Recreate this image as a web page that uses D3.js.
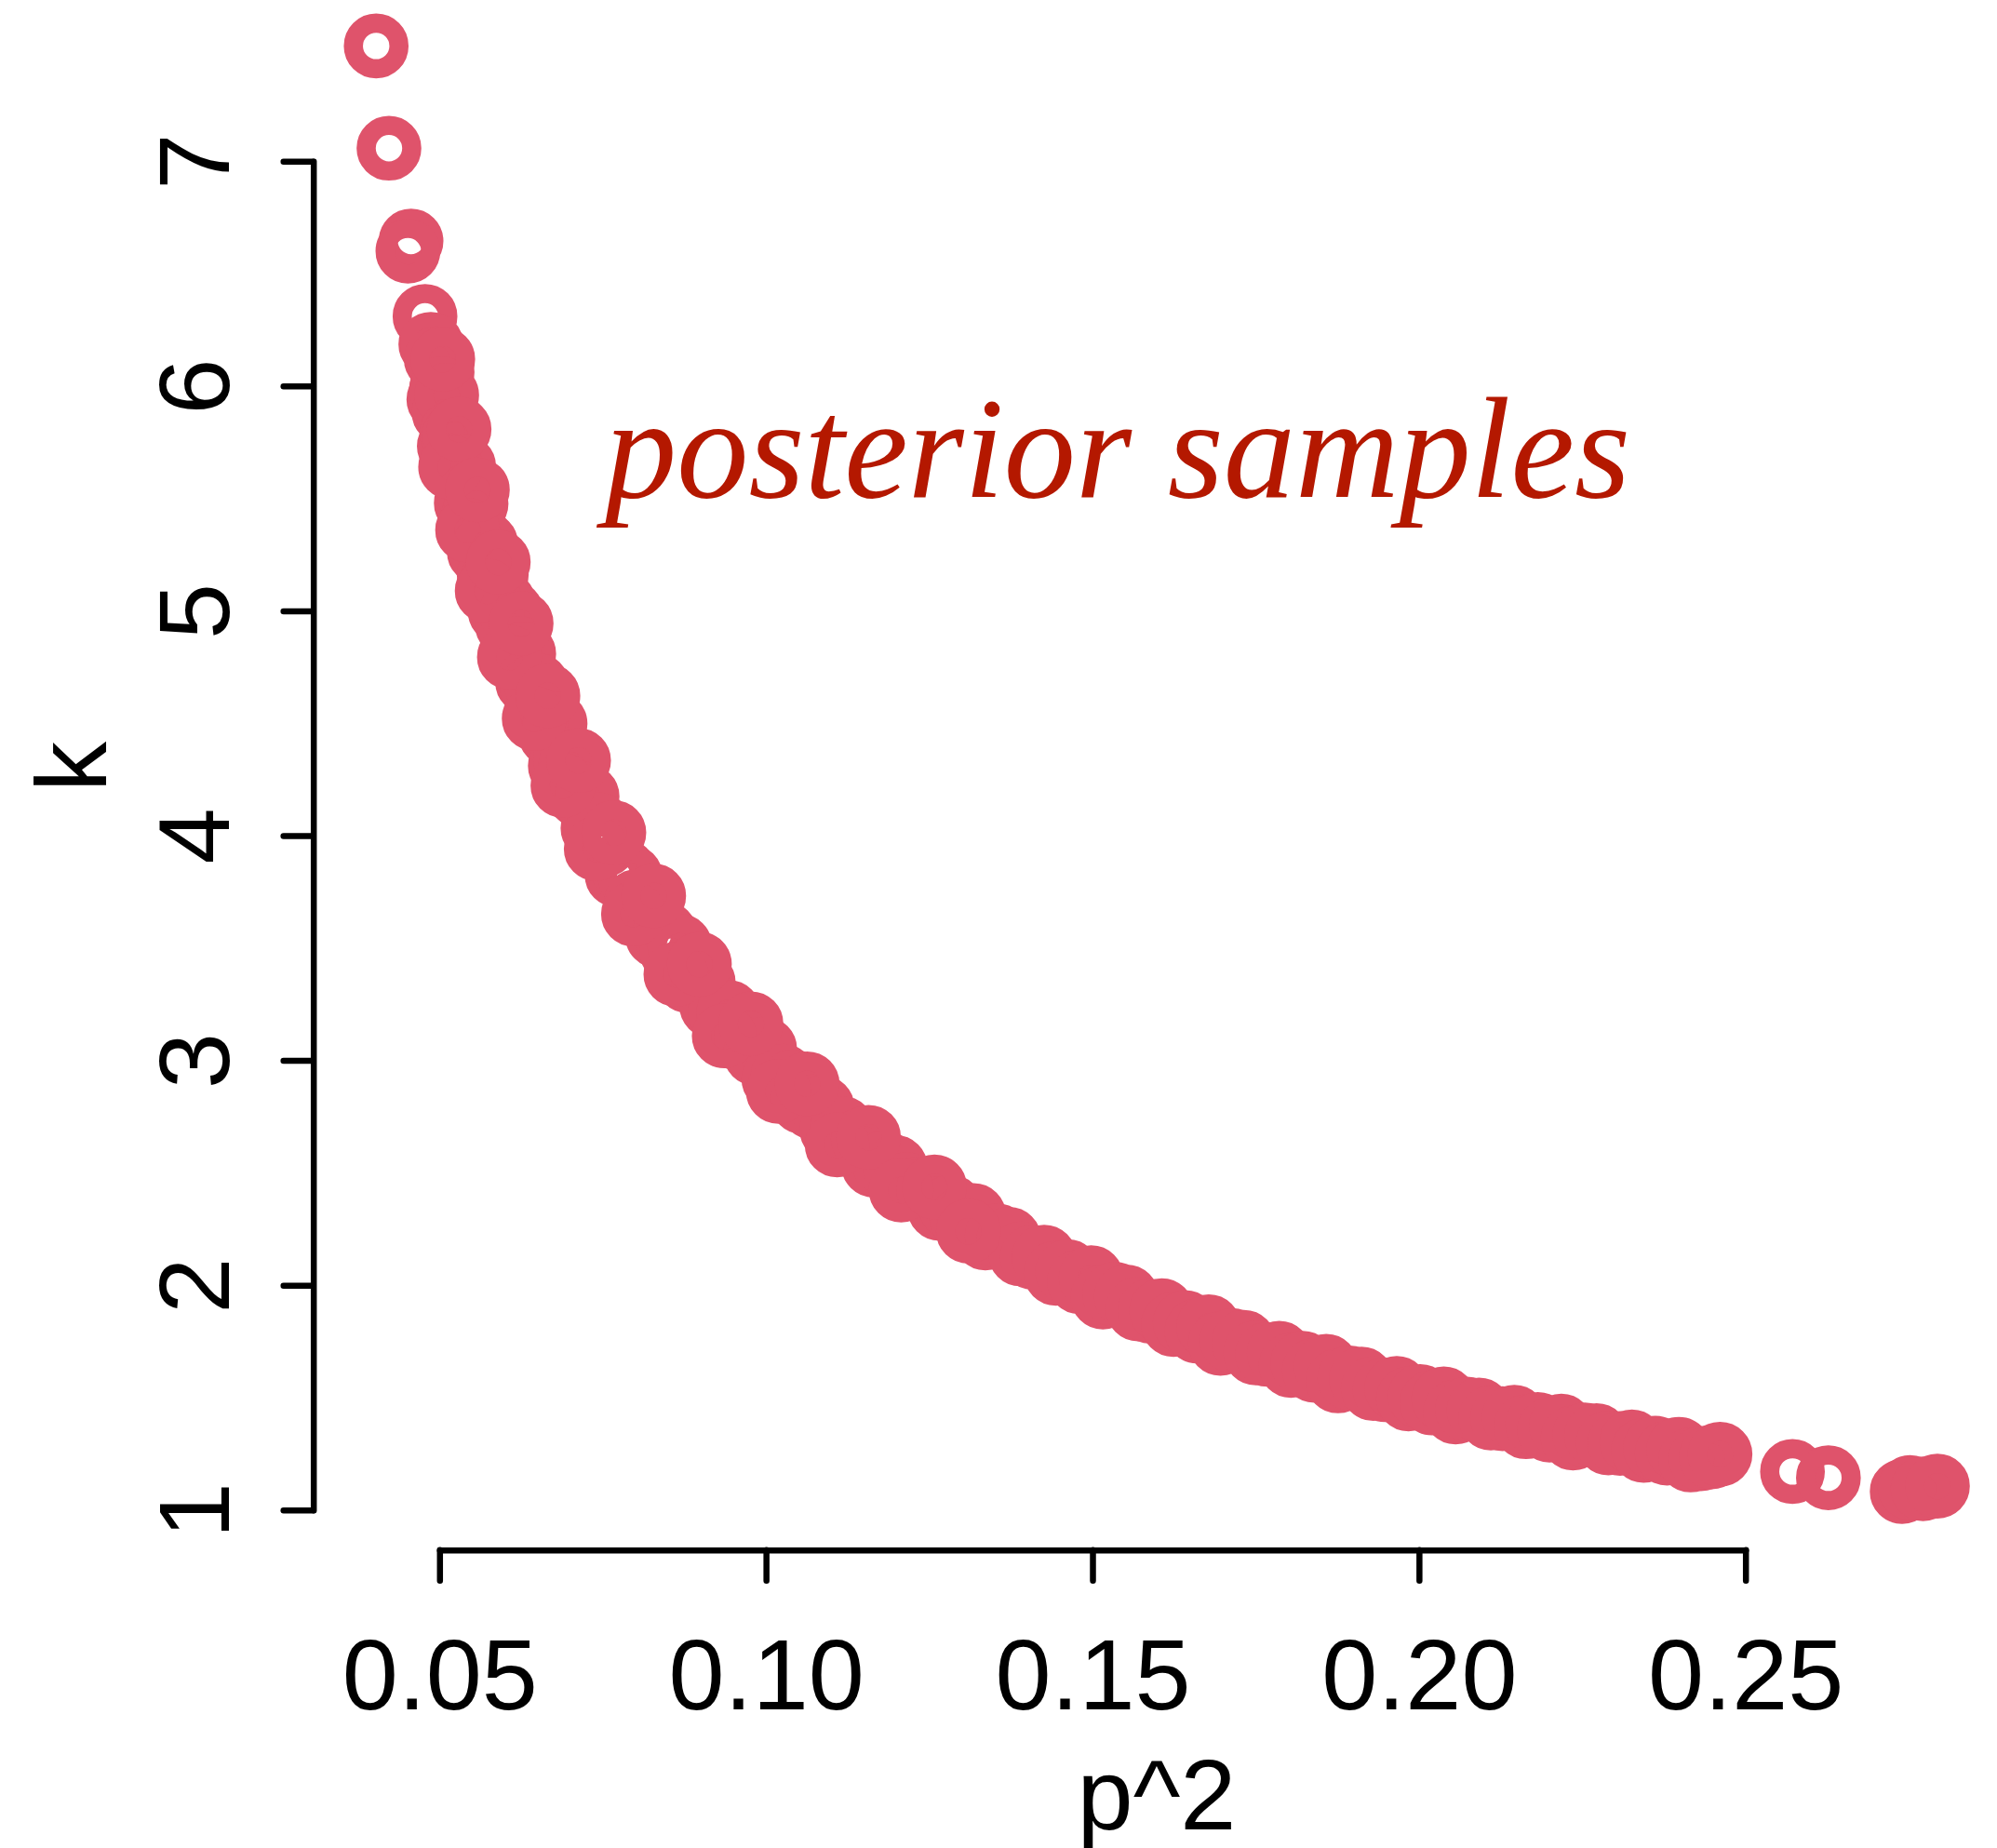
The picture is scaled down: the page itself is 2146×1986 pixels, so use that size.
<!DOCTYPE html>
<html>
<head>
<meta charset="utf-8">
<script src="https://cdn.jsdelivr.net/npm/d3@7"></script>
<style>
  html, body { margin: 0; padding: 0; background: #ffffff; }
  svg { display: block; }
</style>
</head>
<body>
<script>
// ---------------- data ----------------
const p2Samples = [
  0.0403, 0.04226, 0.04564, 0.04516, 0.04778, 0.04867, 0.0504,
  0.0495, 0.0499, 0.0503, 0.0507, 0.0511, 0.0515, 0.0519, 0.0523, 0.0528, 0.0532,
  0.0537, 0.0541, 0.0546, 0.0551, 0.0556, 0.0561, 0.0566, 0.0571, 0.0576, 0.0582,
  0.0587, 0.0593, 0.0598, 0.0604,
  0.0610, 0.0616, 0.0622, 0.0629, 0.0635, 0.0642, 0.0649, 0.0656, 0.0663, 0.0670,
  0.0677, 0.0685, 0.0693, 0.0701,
  0.0709, 0.0717, 0.0726, 0.0735, 0.0744, 0.0753, 0.0762, 0.0772, 0.0782, 0.0792, 0.0802,
  0.0812, 0.0823, 0.0834, 0.0845, 0.0856, 0.0868, 0.0880, 0.0892, 0.0904, 0.0917,
  0.0930, 0.0943, 0.0956, 0.0970, 0.0984, 0.0998,
  0.1012, 0.1026, 0.1041, 0.1056, 0.1071, 0.1086, 0.1101, 0.1117, 0.1133, 0.1149,
  0.1165, 0.1181, 0.1198,
  0.1215, 0.1232, 0.1249, 0.1266, 0.1283, 0.1300, 0.1318, 0.1336, 0.1354, 0.1372,
  0.1390, 0.1408, 0.1426, 0.1444, 0.1462, 0.1480, 0.1498,
  0.1516, 0.1534, 0.1552, 0.1570, 0.1588, 0.1606, 0.1624, 0.1642, 0.1660, 0.1678,
  0.1696, 0.1714, 0.1732, 0.1750, 0.1768, 0.1786, 0.1804, 0.1822, 0.1840, 0.1858,
  0.1876, 0.1894, 0.1912, 0.1930, 0.1948, 0.1966, 0.1984,
  0.2002, 0.2020, 0.2038, 0.2056, 0.2074, 0.2092, 0.2110, 0.2128, 0.2146, 0.2164,
  0.2182, 0.2200, 0.2218, 0.2236, 0.2254, 0.2272, 0.2290, 0.2308, 0.2326, 0.2344,
  0.2362, 0.2380, 0.2398, 0.2416, 0.2432, 0.2448, 0.2461,
  0.2572, 0.2627, 0.2740, 0.2752, 0.2772, 0.2794
];
const kSamples = [
  7.513, 7.058, 6.645, 6.600, 6.310, 6.186, 6.062,
  6.121, 5.940, 5.988, 5.882, 5.959, 5.732, 5.792, 5.782, 5.631, 5.622,
  5.642, 5.479, 5.516, 5.412, 5.477, 5.262, 5.311, 5.296, 5.161, 5.139,
  5.162, 4.998, 5.037, 4.937,
  4.992, 4.792, 4.833, 4.808, 4.682, 4.659, 4.669, 4.518, 4.543, 4.451,
  4.498, 4.310, 4.338, 4.314,
  4.193, 4.172, 4.174, 4.033, 4.048, 3.960, 3.996, 3.824, 3.844, 3.818, 3.707,
  3.684, 3.682, 3.554, 3.565, 3.484, 3.508, 3.355, 3.370, 3.345, 3.242,
  3.216, 3.213, 3.100, 3.105, 3.031, 3.051,
  2.917, 2.930, 2.905, 2.815, 2.793, 2.790, 2.692, 2.697, 2.632, 2.650,
  2.534, 2.545, 2.524,
  2.447, 2.428, 2.426, 2.341, 2.348, 2.294, 2.310, 2.210, 2.220, 2.204,
  2.139, 2.124, 2.125, 2.053, 2.060, 2.015, 2.033,
  1.947, 1.960, 1.948, 1.894, 1.884, 1.887, 1.825, 1.834, 1.796, 1.815,
  1.741, 1.754, 1.746, 1.699, 1.692, 1.697, 1.643, 1.653, 1.621, 1.639,
  1.574, 1.587, 1.582, 1.540, 1.535, 1.541, 1.494,
  1.505, 1.476, 1.494, 1.436, 1.449, 1.445, 1.409, 1.406, 1.412, 1.370,
  1.380, 1.355, 1.373, 1.320, 1.334, 1.331, 1.298, 1.296, 1.303, 1.265,
  1.275, 1.253, 1.270, 1.222, 1.228, 1.236, 1.248,
  1.171, 1.143, 1.082, 1.100, 1.094, 1.106
];
// samples lying on the outer edges of the band in its steep part
const p2EdgeSamples = [
  0.0505, 0.0517, 0.0530, 0.0543, 0.0558, 0.0573, 0.0590, 0.0607, 0.0625, 0.0645,
  0.0666, 0.0689, 0.0713, 0.0740, 0.0767, 0.0797, 0.0828, 0.0862, 0.0898, 0.0936,
  0.0977, 0.1019, 0.1063, 0.1109, 0.1157, 0.1207, 0.1258, 0.1310
];
const kEdgeSamples = [
  6.119, 5.640, 5.808, 5.359, 5.538, 5.089, 5.217, 4.794, 4.944, 4.521,
  4.622, 4.223, 4.334, 3.941, 4.013, 3.651, 3.732, 3.383, 3.428, 3.109,
  3.163, 2.862, 2.896, 2.624, 2.658, 2.423, 2.437, 2.240
];
const xTicks = [0.05, 0.10, 0.15, 0.20, 0.25];
const xTickLabels = ["0.05", "0.10", "0.15", "0.20", "0.25"];
const yTicks = [1, 2, 3, 4, 5, 6, 7];
const yTickLabels = ["1", "2", "3", "4", "5", "6", "7"];
const xTitle = "p^2";
const yTitle = "k";
const annotation = "posterior samples";

// ---------------- layout ----------------
const W = 2146, H = 1986;
const pointColor = "#DF536B";
const textColor = "#b41800";
const sansFont = "'Liberation Sans', Arial, Helvetica, sans-serif";
const serifFont = "'Liberation Serif', 'Times New Roman', serif";

const svg = d3.select("body").append("svg")
  .attr("width", W).attr("height", H)
  .attr("viewBox", `0 0 ${W} ${H}`);
svg.append("rect").attr("width", W).attr("height", H).attr("fill", "#ffffff");

const x = d3.scaleLinear().domain([0.05, 0.25]).range([472.3, 1875.7]);
const y = d3.scaleLinear().domain([1, 7]).range([1622.7, 173.3]);

const axisX0 = 336.7;   // position of the y axis line
const axisY0 = 1665.7;  // position of the x axis line

// ---------------- points ----------------
const pts = p2Samples.map((p, i) => ({ p2: p, k: kSamples[i] }))
  .concat(p2EdgeSamples.map((p, i) => ({ p2: p, k: kEdgeSamples[i] })));
svg.append("g")
  .selectAll("circle")
  .data(pts)
  .join("circle")
  .attr("cx", d => x(d.p2))
  .attr("cy", d => y(d.k))
  .attr("r", 24.5)
  .attr("fill", "none")
  .attr("stroke", pointColor)
  .attr("stroke-width", 20.6);

// ---------------- axes ----------------
function styleAxis(g) {
  g.select(".domain").attr("stroke", "#000").attr("stroke-width", 6.5)
    .attr("stroke-linecap", "round").attr("stroke-linejoin", "round");
  g.selectAll(".tick line").attr("stroke", "#000").attr("stroke-width", 6.5)
    .attr("stroke-linecap", "round");
}

const gx = svg.append("g")
  .attr("transform", `translate(0,${axisY0})`)
  .call(d3.axisBottom(x).tickValues(xTicks)
    .tickFormat((d, i) => xTickLabels[i]).tickSize(33).tickSizeOuter(0));
styleAxis(gx);
gx.selectAll(".tick text")
  .attr("y", 171.3).attr("dy", 0)
  .attr("fill", "#000")
  .style("font-family", sansFont)
  .style("font-size", "108px");

const gy = svg.append("g")
  .attr("transform", `translate(${axisX0},0)`)
  .call(d3.axisLeft(y).tickValues(yTicks)
    .tickFormat((d, i) => yTickLabels[i]).tickSize(32).tickSizeOuter(0));
styleAxis(gy);
gy.selectAll(".tick text")
  .attr("x", 0).attr("y", 0).attr("dy", 0)
  .attr("text-anchor", "middle")
  .attr("transform", "translate(-90.7,0) rotate(-90)")
  .attr("fill", "#000")
  .style("font-family", sansFont)
  .style("font-size", "108px");
gx.attr("font-family", null).attr("font-size", null);
gy.attr("font-family", null).attr("font-size", null);

// ---------------- titles ----------------
svg.append("text")
  .attr("x", 1243).attr("y", 1966)
  .attr("text-anchor", "middle")
  .attr("fill", "#000")
  .style("font-family", sansFont)
  .style("font-size", "108px")
  .text(xTitle);

svg.append("text")
  .attr("transform", "translate(114,824) rotate(-90)")
  .attr("text-anchor", "middle")
  .attr("fill", "#000")
  .style("font-family", sansFont)
  .style("font-size", "108px")
  .text(yTitle);

// ---------------- annotation ----------------
const ann = svg.append("text")
  .attr("x", 650).attr("y", 534)
  .attr("fill", textColor)
  .style("font-family", serifFont)
  .style("font-style", "italic")
  .style("font-size", "156px")
  .text(annotation);
const targetW = 1102;
const w0 = ann.node().getComputedTextLength();
if (w0 > 0) ann.style("font-size", (156 * targetW / w0).toFixed(1) + "px");
</script>
</body>
</html>
